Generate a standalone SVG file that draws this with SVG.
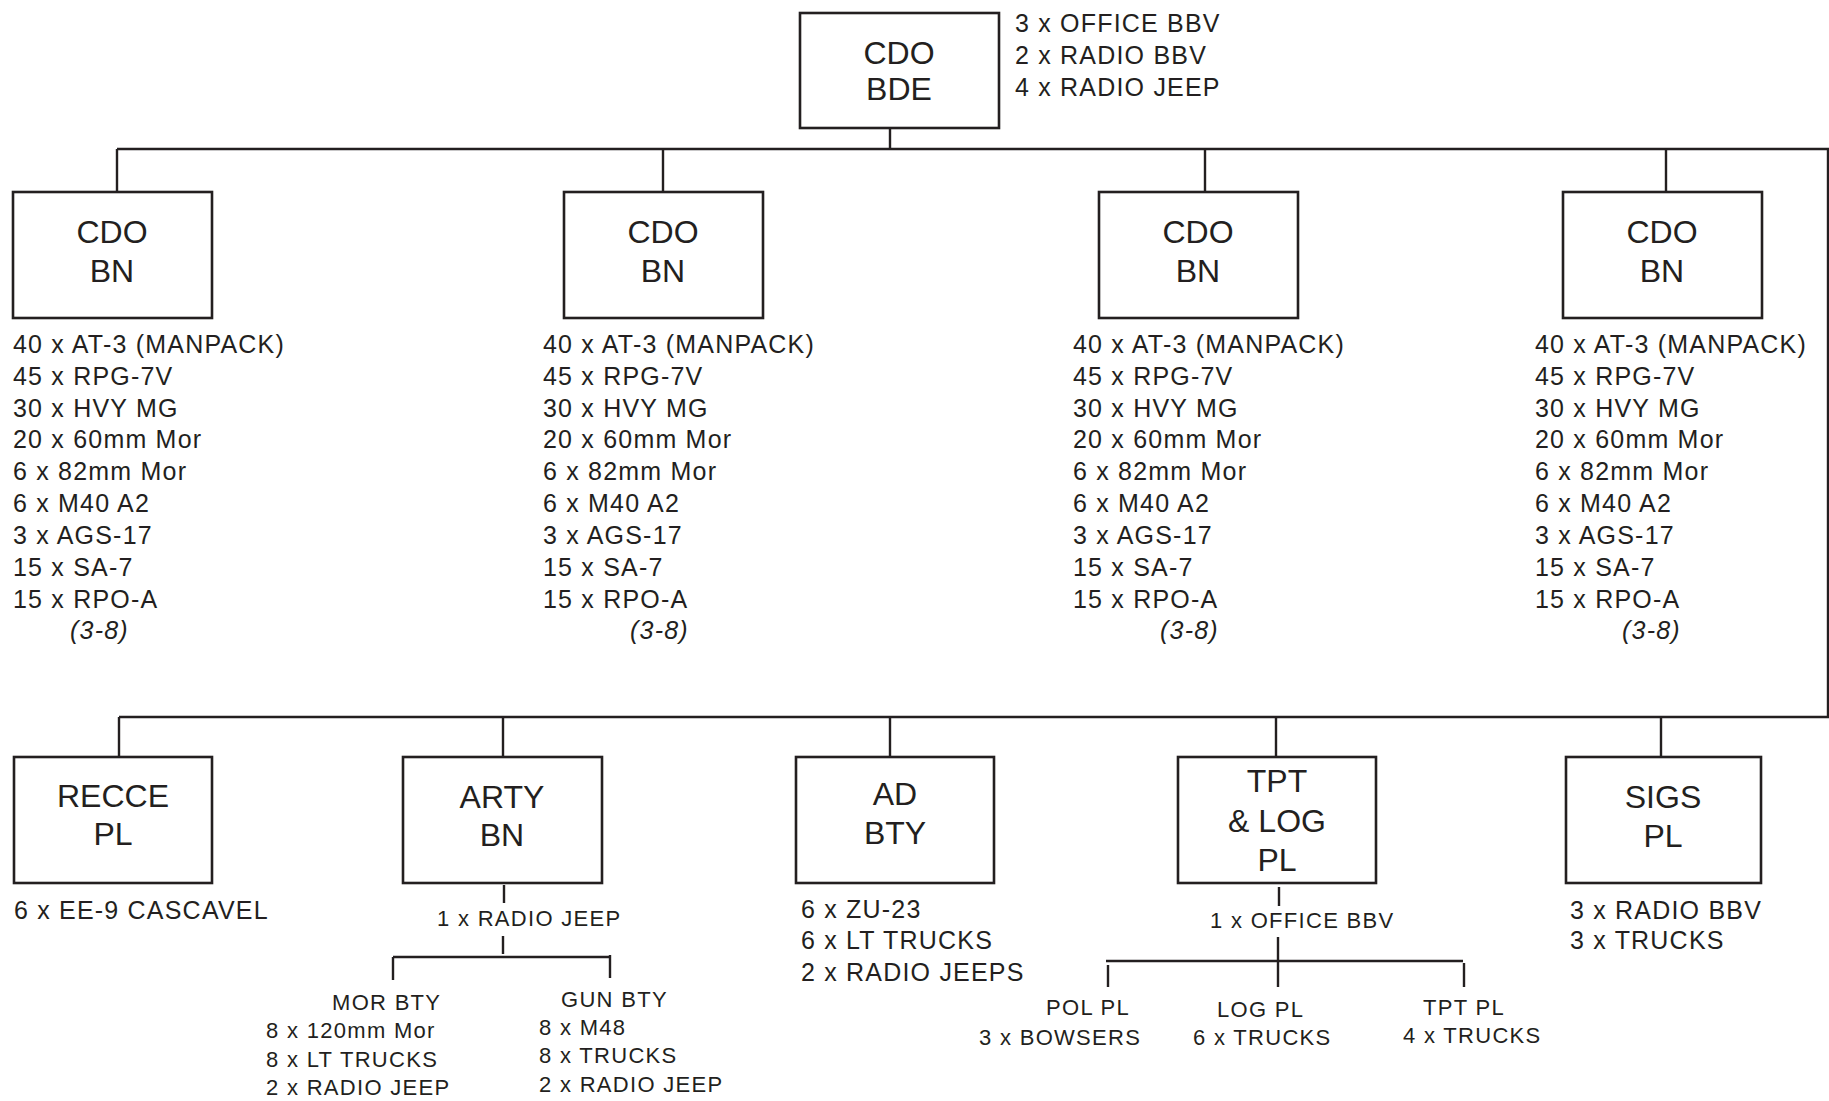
<svg xmlns="http://www.w3.org/2000/svg" width="1829" height="1101" viewBox="0 0 1829 1101">
<style>
.box{fill:#fff;stroke:#231f20;stroke-width:2.6}
.ln{stroke:#231f20;stroke-width:2.4;fill:none}
.t{font-family:"Liberation Sans",Arial,sans-serif;fill:#231f20;font-size:32px;text-anchor:middle}
.l{font-family:"Liberation Sans",Arial,sans-serif;fill:#231f20;font-size:25px;letter-spacing:1.2px}
.s{font-family:"Liberation Sans",Arial,sans-serif;fill:#231f20;font-size:22px;letter-spacing:1.3px}
.i{font-style:italic}
</style>
<rect width="1829" height="1101" fill="#fff"/>
<g id="connectors" class="ln">
<path d="M117,149H1828V717H119"/>
<path d="M890,128V149M117,149V192M663,149V192M1205,149V192M1666,149V192"/>
<path d="M119,717V757M503,717V757M890,717V757M1276,717V757M1661,717V757"/>
<path d="M504,885V903M503,936V954M393,957H610M393,957V980M610,955V978"/>
<path d="M1279,887V906M1278,937V987M1106,961H1463M1108,965V987M1464,963V987"/>
</g>
<g id="bde">
<rect class="box" x="800" y="13" width="199" height="115"/>
<text class="t" x="899" y="64">CDO</text>
<text class="t" x="899" y="100">BDE</text>
<text class="l" x="1015" y="32">3 x OFFICE BBV</text>
<text class="l" x="1015" y="64">2 x RADIO BBV</text>
<text class="l" x="1015" y="96">4 x RADIO JEEP</text>
</g>
<g id="bn1">
<rect class="box" x="13" y="192" width="199" height="126"/>
<text class="t" x="112" y="243">CDO</text>
<text class="t" x="112" y="282">BN</text>
<text class="l" x="13" y="353">40 x AT-3 (MANPACK)</text>
<text class="l" x="13" y="385">45 x RPG-7V</text>
<text class="l" x="13" y="417">30 x HVY MG</text>
<text class="l" x="13" y="448">20 x 60mm Mor</text>
<text class="l" x="13" y="480">6 x 82mm Mor</text>
<text class="l" x="13" y="512">6 x M40 A2</text>
<text class="l" x="13" y="544">3 x AGS-17</text>
<text class="l" x="13" y="576">15 x SA-7</text>
<text class="l" x="13" y="608">15 x RPO-A</text>
<text class="l i" x="70" y="639">(3-8)</text>
</g>
<g id="bn2">
<rect class="box" x="564" y="192" width="199" height="126"/>
<text class="t" x="663" y="243">CDO</text>
<text class="t" x="663" y="282">BN</text>
<text class="l" x="543" y="353">40 x AT-3 (MANPACK)</text>
<text class="l" x="543" y="385">45 x RPG-7V</text>
<text class="l" x="543" y="417">30 x HVY MG</text>
<text class="l" x="543" y="448">20 x 60mm Mor</text>
<text class="l" x="543" y="480">6 x 82mm Mor</text>
<text class="l" x="543" y="512">6 x M40 A2</text>
<text class="l" x="543" y="544">3 x AGS-17</text>
<text class="l" x="543" y="576">15 x SA-7</text>
<text class="l" x="543" y="608">15 x RPO-A</text>
<text class="l i" x="630" y="639">(3-8)</text>
</g>
<g id="bn3">
<rect class="box" x="1099" y="192" width="199" height="126"/>
<text class="t" x="1198" y="243">CDO</text>
<text class="t" x="1198" y="282">BN</text>
<text class="l" x="1073" y="353">40 x AT-3 (MANPACK)</text>
<text class="l" x="1073" y="385">45 x RPG-7V</text>
<text class="l" x="1073" y="417">30 x HVY MG</text>
<text class="l" x="1073" y="448">20 x 60mm Mor</text>
<text class="l" x="1073" y="480">6 x 82mm Mor</text>
<text class="l" x="1073" y="512">6 x M40 A2</text>
<text class="l" x="1073" y="544">3 x AGS-17</text>
<text class="l" x="1073" y="576">15 x SA-7</text>
<text class="l" x="1073" y="608">15 x RPO-A</text>
<text class="l i" x="1160" y="639">(3-8)</text>
</g>
<g id="bn4">
<rect class="box" x="1563" y="192" width="199" height="126"/>
<text class="t" x="1662" y="243">CDO</text>
<text class="t" x="1662" y="282">BN</text>
<text class="l" x="1535" y="353">40 x AT-3 (MANPACK)</text>
<text class="l" x="1535" y="385">45 x RPG-7V</text>
<text class="l" x="1535" y="417">30 x HVY MG</text>
<text class="l" x="1535" y="448">20 x 60mm Mor</text>
<text class="l" x="1535" y="480">6 x 82mm Mor</text>
<text class="l" x="1535" y="512">6 x M40 A2</text>
<text class="l" x="1535" y="544">3 x AGS-17</text>
<text class="l" x="1535" y="576">15 x SA-7</text>
<text class="l" x="1535" y="608">15 x RPO-A</text>
<text class="l i" x="1622" y="639">(3-8)</text>
</g>
<g id="recce">
<rect class="box" x="14" y="757" width="198" height="126"/>
<text class="t" x="113" y="807">RECCE</text>
<text class="t" x="113" y="845">PL</text>
<text class="l" x="14" y="919">6 x EE-9 CASCAVEL</text>
</g>
<g id="arty">
<rect class="box" x="403" y="757" width="199" height="126"/>
<text class="t" x="502" y="808">ARTY</text>
<text class="t" x="502" y="846">BN</text>
<text class="s" x="437" y="926">1 x RADIO JEEP</text>
</g>
<g id="mor-bty">
<text class="s" x="332" y="1010">MOR BTY</text>
<text class="s" x="266" y="1038">8 x 120mm Mor</text>
<text class="s" x="266" y="1067">8 x LT TRUCKS</text>
<text class="s" x="266" y="1095">2 x RADIO JEEP</text>
</g>
<g id="gun-bty">
<text class="s" x="561" y="1007">GUN BTY</text>
<text class="s" x="539" y="1035">8 x M48</text>
<text class="s" x="539" y="1063">8 x TRUCKS</text>
<text class="s" x="539" y="1092">2 x RADIO JEEP</text>
</g>
<g id="ad">
<rect class="box" x="796" y="757" width="198" height="126"/>
<text class="t" x="895" y="805">AD</text>
<text class="t" x="895" y="844">BTY</text>
<text class="l" x="801" y="918">6 x ZU-23</text>
<text class="l" x="801" y="949">6 x LT TRUCKS</text>
<text class="l" x="801" y="981">2 x RADIO JEEPS</text>
</g>
<g id="tpt-log">
<rect class="box" x="1178" y="757" width="198" height="126"/>
<text class="t" x="1277" y="792">TPT</text>
<text class="t" x="1277" y="832">&amp; LOG</text>
<text class="t" x="1277" y="871">PL</text>
<text class="s" x="1210" y="928">1 x OFFICE BBV</text>
</g>
<g id="pol-pl">
<text class="s" x="1046" y="1015">POL PL</text>
<text class="s" x="979" y="1045">3 x BOWSERS</text>
</g>
<g id="log-pl">
<text class="s" x="1217" y="1017">LOG PL</text>
<text class="s" x="1193" y="1045">6 x TRUCKS</text>
</g>
<g id="tpt-pl">
<text class="s" x="1423" y="1015">TPT PL</text>
<text class="s" x="1403" y="1043">4 x TRUCKS</text>
</g>
<g id="sigs">
<rect class="box" x="1566" y="757" width="195" height="126"/>
<text class="t" x="1663" y="808">SIGS</text>
<text class="t" x="1663" y="847">PL</text>
<text class="l" x="1570" y="919">3 x RADIO BBV</text>
<text class="l" x="1570" y="949">3 x TRUCKS</text>
</g>
</svg>
